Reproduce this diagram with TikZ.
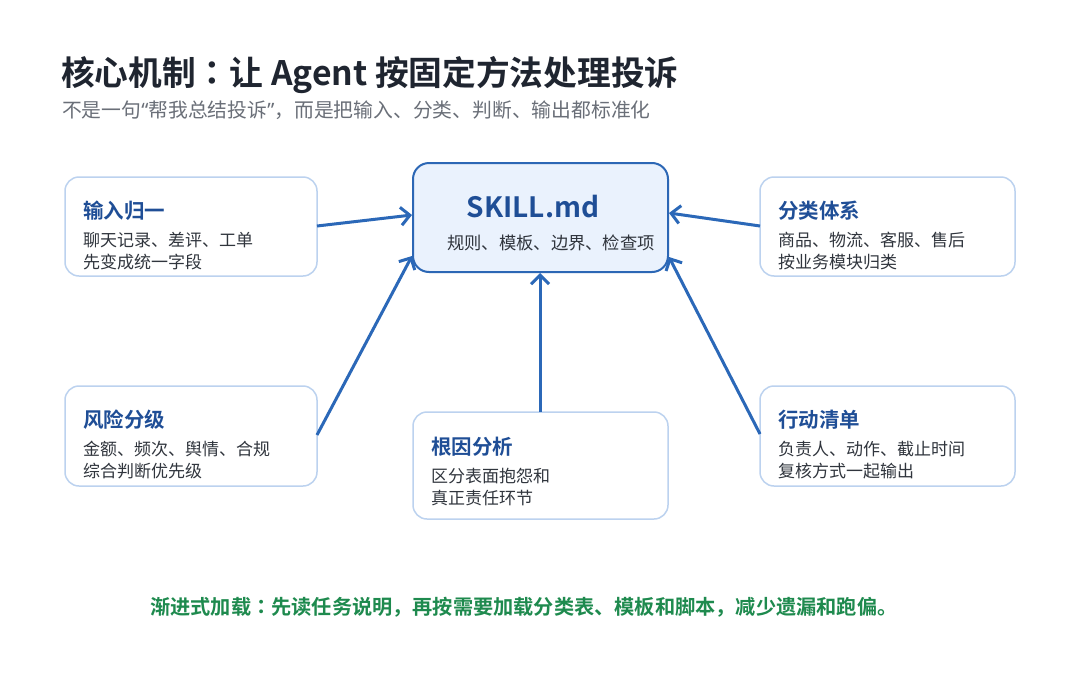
\documentclass[tikz,border=0pt]{standalone}
\usepackage{fontspec}
\setmainfont{Noto Sans CJK SC}
\newfontfamily\cjkb{Noto Sans CJK SC Bold}
\newfontfamily\jpb{Noto Sans CJK JP Bold}
\newfontfamily\latq{Noto Sans}
\usetikzlibrary{arrows.meta}
\definecolor{titlec}{HTML}{1F2530}
\definecolor{subc}{HTML}{6A6F78}
\definecolor{headc}{HTML}{1F4E96}
\definecolor{bodyc}{HTML}{30353D}
\definecolor{boxb}{HTML}{BCD2EF}
\definecolor{mainb}{HTML}{2C67B5}
\definecolor{mainf}{HTML}{EAF2FD}
\definecolor{arrowc}{HTML}{2B68B8}
\definecolor{greenc}{HTML}{1E8A4E}
\tikzset{
  card/.style={draw=boxb, line width=1.5pt, rounded corners=14pt, fill=white},
  mainbox/.style={draw=mainb, line width=2pt, rounded corners=16pt, fill=mainf},
  head/.style={anchor=west, text=headc, font=\cjkb\fontsize{20.5}{24}\selectfont, inner sep=0pt},
  body/.style={anchor=west, text=bodyc, font=\fontsize{17}{22}\selectfont, inner sep=0pt},
  conn/.style={draw=arrowc, line width=3pt, -{Straight Barb[length=9pt,width=18pt,line width=3pt]}},
}
\begin{document}
\begin{tikzpicture}[x=1pt,y=-1pt]
\useasboundingbox (0,0) rectangle (1080,675);
\fill[white] (0,0) rectangle (1080,675);
% title
\node[anchor=west, text=titlec, font=\cjkb\fontsize{33.7}{38}\selectfont, inner sep=0pt] (title) at (61,75) {核心机制{\jpb ：}让 Agent 按固定方法处理投诉};
\node[anchor=west, text=subc, font=\fontsize{19.8}{23}\selectfont, inner sep=0pt] (sub) at (62,110) {不是一句{\latq “}帮我总结投诉{\latq ”}，而是把输入、分类、判断、输出都标准化};
% boxes
\draw[card] (65,177) rectangle (317,276);
\coordinate (inL) at (317,226);
\node[head] (h1) at (83,211) {输入归一};
\node[body] (b1a) at (83,240) {聊天记录、差评、工单};
\node[body] (b1b) at (83,262) {先变成统一字段};

\draw[card] (760,177) rectangle (1015,276);
\coordinate (inR) at (760,226);
\node[head] (h2) at (778,211) {分类体系};
\node[body] (b2a) at (778,240) {商品、物流、客服、售后};
\node[body] (b2b) at (778,262) {按业务模块归类};

\draw[card] (65,386) rectangle (317,486);
\coordinate (riskC) at (317,435);
\node[head] (h3) at (83,420) {风险分级};
\node[body] (b3a) at (83,449) {金额、频次、舆情、合规};
\node[body] (b3b) at (83,471) {综合判断优先级};

\draw[card] (413,412) rectangle (668,519);
\coordinate (rootT) at (540,412);
\node[head] (h4) at (431,447) {根因分析};
\node[body] (b4a) at (431,476) {区分表面抱怨和};
\node[body] (b4b) at (431,498) {真正责任环节};

\draw[card] (760,386) rectangle (1015,486);
\coordinate (actL) at (760,434);
\node[head] (h5) at (778,420) {行动清单};
\node[body] (b5a) at (778,449) {负责人、动作、截止时间};
\node[body] (b5b) at (778,471) {复核方式一起输出};

% main
\draw[mainbox] (413,163) rectangle (668,272);
\node[text=headc, font=\cjkb\fontsize{28}{32}\selectfont, inner sep=0pt] (skill) at (533,207) {SKILL.md};
\node[text=bodyc, font=\fontsize{17.3}{20}\selectfont, inner sep=0pt] (skillsub) at (551,243) {规则、模板、边界、检查项};
\coordinate (mL1) at (412,215);
\coordinate (mL2) at (412,256);
\coordinate (mB) at (540,273);
\coordinate (mR1) at (669,213);
\coordinate (mR2) at (669,257);

\draw[conn] (inL) -- (mL1);
\draw[conn] (riskC) -- (mL2);
\draw[conn] (rootT) -- (mB);
\draw[conn] (inR) -- (mR1);
\draw[conn] (actL) -- (mR2);

\node[anchor=west, text=greenc, font=\cjkb\fontsize{20.2}{23}\selectfont, inner sep=0pt] (foot) at (150,607) {渐进式加载{\jpb ：}先读任务说明，再按需要加载分类表、模板和脚本，减少遗漏和跑偏。};
\end{tikzpicture}
\end{document}
